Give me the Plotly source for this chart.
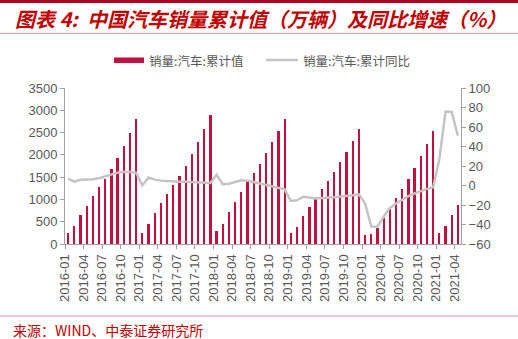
import plotly.graph_objects as go

# Monthly periods, 2016-01 .. 2021-04
months = [f"{y}-{m:02d}" for y in range(2016, 2022) for m in range(1, 13)][:64]

# Cumulative vehicle sales (10k units)
sales_cum = [
    250, 408, 650, 862, 1072, 1280, 1465, 1672, 1935, 2200, 2495, 2803,
    254, 448, 702, 910, 1119, 1335, 1524, 1742, 2009, 2282, 2580, 2888,
    281, 452, 718, 938, 1167, 1407, 1595, 1805, 2045, 2283, 2538, 2808,
    237, 385, 637, 836, 1027, 1232, 1413, 1610, 1837, 2064, 2311, 2577,
    194, 222, 367, 576, 796, 1026, 1237, 1455, 1712, 1970, 2247, 2531,
    250, 396, 648, 874,
]

# Cumulative year-on-year growth (%)
yoy_cum = [
    7.0, 4.0, 5.8, 5.8, 6.5, 7.5, 9.5, 11.5, 13.2, 13.8, 13.8, 13.0,
    0.2, 8.2, 6.0, 5.0, 4.4, 3.8, 3.8, 3.8, 3.6, 3.5, 3.0, 2.6,
    11.0, 1.2, 1.8, 3.8, 5.3, 5.0, 3.5, 2.0, 0.3, -1.4, -2.8, -4.0,
    -15.8, -15.2, -11.5, -12.2, -13.2, -12.8, -12.6, -12.0, -11.3, -11.0, -10.0, -9.0,
    -18.5, -42.0, -42.5, -32.0, -23.0, -18.5, -14.5, -11.0, -8.2, -5.5, -3.4, -1.8,
    27.0, 75.8, 75.4, 51.0,
]

bar_name = "销量:汽车:累计值"
line_name = "销量:汽车:累计同比"
title_text = "图表 4:  中国汽车销量累计值（万辆）及同比增速（%）"
source_text = "来源：WIND、中泰证券研究所"

tick_idx = list(range(0, 64, 3))
tick_text = [months[i] for i in tick_idx]

BAR_COLOR = "#C0103E"
LINE_COLOR = "#C4C4C4"
RED = "#C00000"
AX = "#A0A0A0"
TXT = "#595959"

W, H = 518, 339
L, R, T, B = 65, 57, 88, 95
pw, ph = W - L - R, H - T - B


def px(x):
    return (x - L) / pw


def py(y):
    return (H - B - y) / ph


xc = [i + 0.5 for i in range(len(months))]

fig = go.Figure()
fig.add_trace(go.Bar(x=xc, y=sales_cum, name=bar_name, marker_color=BAR_COLOR,
                     marker_line_width=0, width=0.36, yaxis="y", showlegend=False))
fig.add_trace(go.Scatter(x=xc, y=yoy_cum, name=line_name, mode="lines",
                         line=dict(color=LINE_COLOR, width=2.5), yaxis="y2",
                         showlegend=False))

tickfont = dict(family="Liberation Sans, Arial, sans-serif", size=13, color=TXT)

fig.update_layout(
    width=W, height=H,
    margin=dict(l=L, r=R, t=T, b=B),
    paper_bgcolor="white", plot_bgcolor="white",
    xaxis=dict(range=[0, 64], tickmode="array", tickvals=tick_idx, ticktext=tick_text,
               tickangle=-90, ticks="outside", ticklen=4, tickcolor=AX,
               showline=True, linecolor=AX, linewidth=1, showgrid=False,
               zeroline=False, tickfont=tickfont),
    yaxis=dict(range=[0, 3500], dtick=500, ticks="outside", ticklen=4, tickcolor=AX,
               showline=True, linecolor=AX, linewidth=1, showgrid=False,
               zeroline=False, tickfont=tickfont),
    yaxis2=dict(range=[-60, 100], dtick=20, overlaying="y", side="right",
                ticks="outside", ticklen=4, tickcolor=AX,
                showline=True, linecolor=AX, linewidth=1, showgrid=False,
                zeroline=False, tickfont=tickfont),
    bargap=0,
)

shapes = [
    # top banner rule
    dict(type="rect", xref="paper", yref="paper", x0=px(0), x1=px(W),
         y0=py(3), y1=py(0), fillcolor="#B00020", line_width=0),
    # rule under title
    dict(type="line", xref="paper", yref="paper", x0=px(0), x1=px(W),
         y0=py(33.5), y1=py(33.5), line=dict(color="#E59A9A", width=1)),
    # rule above source
    dict(type="line", xref="paper", yref="paper", x0=px(0), x1=px(W),
         y0=py(316), y1=py(316), line=dict(color="#E8B4B8", width=1.5)),
    # legend swatches
    dict(type="rect", xref="paper", yref="paper", x0=px(114), x1=px(144),
         y0=py(63), y1=py(57.5), fillcolor=BAR_COLOR, line_width=0),
    dict(type="line", xref="paper", yref="paper", x0=px(266), x1=px(298),
         y0=py(60), y1=py(60), line=dict(color=LINE_COLOR, width=2.5)),
]

legend_font = dict(family="Noto Sans CJK SC", size=12.5, color=TXT)
annotations = [
    dict(text=f"<b><i>{title_text}</i></b>", xref="paper", yref="paper",
         x=px(13), y=py(18), xanchor="left", yanchor="middle", showarrow=False,
         font=dict(family="Noto Sans CJK SC", size=20, color=RED)),
    dict(text=bar_name, xref="paper", yref="paper", x=px(147), y=py(60),
         xanchor="left", yanchor="middle", showarrow=False, font=legend_font),
    dict(text=line_name, xref="paper", yref="paper", x=px(301), y=py(60),
         xanchor="left", yanchor="middle", showarrow=False, font=legend_font),
    dict(text=source_text, xref="paper", yref="paper", x=px(11), y=py(330),
         xanchor="left", yanchor="middle", showarrow=False,
         font=dict(family="Noto Sans CJK SC", size=14, color=RED)),
]

fig.update_layout(shapes=shapes, annotations=annotations)
fig.write_html("out.html")
